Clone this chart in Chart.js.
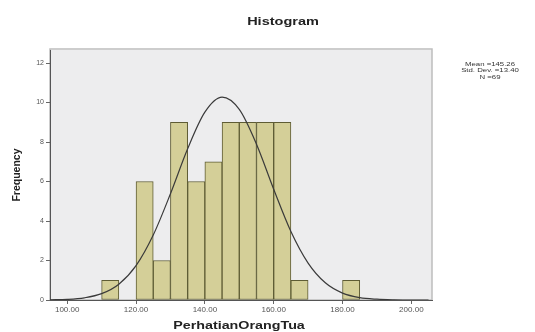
<!DOCTYPE html>
<html>
<head>
<meta charset="utf-8">
<script src="https://cdn.jsdelivr.net/npm/chart.js@4"></script>
<style>
  html, body { margin: 0; padding: 0; background: #fff; }
  #wrap { width: 535px; height: 332px; }
</style>
</head>
<body>
<div id="wrap"><canvas id="hist" width="535" height="332"></canvas></div>
<script>
// Histogram bins (lower edge) and counts, bin width 5
const binStart = [110, 120, 125, 130, 135, 140, 145, 150, 155, 160, 165, 180];
const freq = [1, 6, 2, 9, 6, 7, 9, 9, 9, 9, 1, 1];
const binWidth = 5;

// Normal curve
const curveX = [95, 100, 105, 110, 115, 120, 125, 130, 135, 140, 145, 150, 155, 160, 165, 170, 175, 180, 185, 190, 195, 200, 205];
const curveY = [0.01, 0.03, 0.11, 0.32, 0.80, 1.74, 3.29, 5.38, 7.66, 9.51, 10.27, 9.65, 7.89, 5.61, 3.47, 1.87, 0.87, 0.35, 0.12, 0.04, 0.01, 0.0, 0.0];

const xTicks = [100, 120, 140, 160, 180, 200];
const yTicks = [0, 2, 4, 6, 8, 10, 12];
const statLines = ['Mean =145.26', 'Std. Dev. =13.40', 'N =69'];

const FONT = "'Liberation Sans', Arial, sans-serif";

// text in the reference looks stretched sideways, so squash it back in
function wideText(ctx, text, x, y, sx) {
    ctx.save();
    ctx.translate(x, y);
    ctx.scale(sx, 1);
    ctx.fillText(text, 0, 0);
    ctx.restore();
}

// plot background, frame, titles and stats box
const decor = {
    id: 'decor',
    beforeDraw(chart) {
        const { ctx, chartArea: a } = chart;
        ctx.save();
        ctx.fillStyle = '#ededee';
        ctx.fillRect(a.left, a.top, a.right - a.left, a.bottom - a.top);
        ctx.strokeStyle = '#bdbdbd';
        ctx.lineWidth = 1.5;
        ctx.strokeRect(a.left, a.top - 1, a.right - a.left, a.bottom - a.top + 1);
        ctx.restore();
    },
    afterDraw(chart) {
        const { ctx, chartArea: a } = chart;
        ctx.save();
        ctx.fillStyle = '#222';
        ctx.textAlign = 'center';
        ctx.textBaseline = 'middle';
        ctx.font = 'bold 10px ' + FONT;
        wideText(ctx, 'Histogram', 283, 22, 1.45);
        wideText(ctx, 'PerhatianOrangTua', (a.left + a.right) / 2 - 2, 326, 1.43);
        ctx.font = '6px ' + FONT;
        ctx.fillStyle = '#333';
        statLines.forEach((t, i) => wideText(ctx, t, a.right + 58, a.top + 14 + i * 6.5, 1.3));
        ctx.restore();
    }
};

const ctx = document.getElementById('hist');
new Chart(ctx, {
    type: 'bar',
    data: {
        datasets: [
            {
                type: 'line',
                data: curveX.map((x, i) => ({ x: x, y: curveY[i] })),
                borderColor: '#3a3a3a',
                borderWidth: 1.2,
                pointRadius: 0,
                cubicInterpolationMode: 'monotone',
                order: 0
            },
            {
                type: 'bar',
                data: binStart.map((s, i) => ({ x: s + binWidth / 2, y: freq[i] })),
                backgroundColor: '#d4cf98',
                borderColor: '#5e5c34',
                borderWidth: 1,
                borderSkipped: false,
                barPercentage: 1,
                categoryPercentage: 1,
                order: 1
            }
        ]
    },
    options: {
        responsive: false,
        animation: false,
        layout: { padding: { left: 0, right: 103, top: 50, bottom: 0 } },
        plugins: {
            legend: { display: false },
            tooltip: { enabled: false },
            title: { display: false }
        },
        scales: {
            x: {
                type: 'linear',
                min: 95,
                max: 206,
                offset: false,
                afterBuildTicks: s => { s.ticks = xTicks.map(v => ({ value: v })); },
                afterFit: s => { s.height = 32; },
                grid: { display: true, drawOnChartArea: false, offset: false, tickLength: 4, color: '#666' },
                border: { color: '#555', width: 1 },
                ticks: {
                    color: '#555',
                    font: { size: 8, family: FONT },
                    padding: 1,
                    maxRotation: 0,
                    callback: v => v.toFixed(2)
                },
                title: { display: false }
            },
            y: {
                min: 0,
                max: 12.66,
                afterBuildTicks: s => { s.ticks = yTicks.map(v => ({ value: v })); },
                afterFit: s => { s.width = 50; },
                grid: { display: true, drawOnChartArea: false, tickLength: 4, color: '#666' },
                border: { color: '#555', width: 1 },
                ticks: {
                    color: '#555',
                    font: { size: 7, family: FONT },
                    padding: 2
                },
                title: {
                    display: true,
                    text: 'Frequency',
                    color: '#222',
                    font: { size: 10.5, weight: 'bold', family: FONT },
                    padding: { top: 11, bottom: 0 }
                }
            }
        }
    },
    plugins: [decor]
});
</script>
</body>
</html>
